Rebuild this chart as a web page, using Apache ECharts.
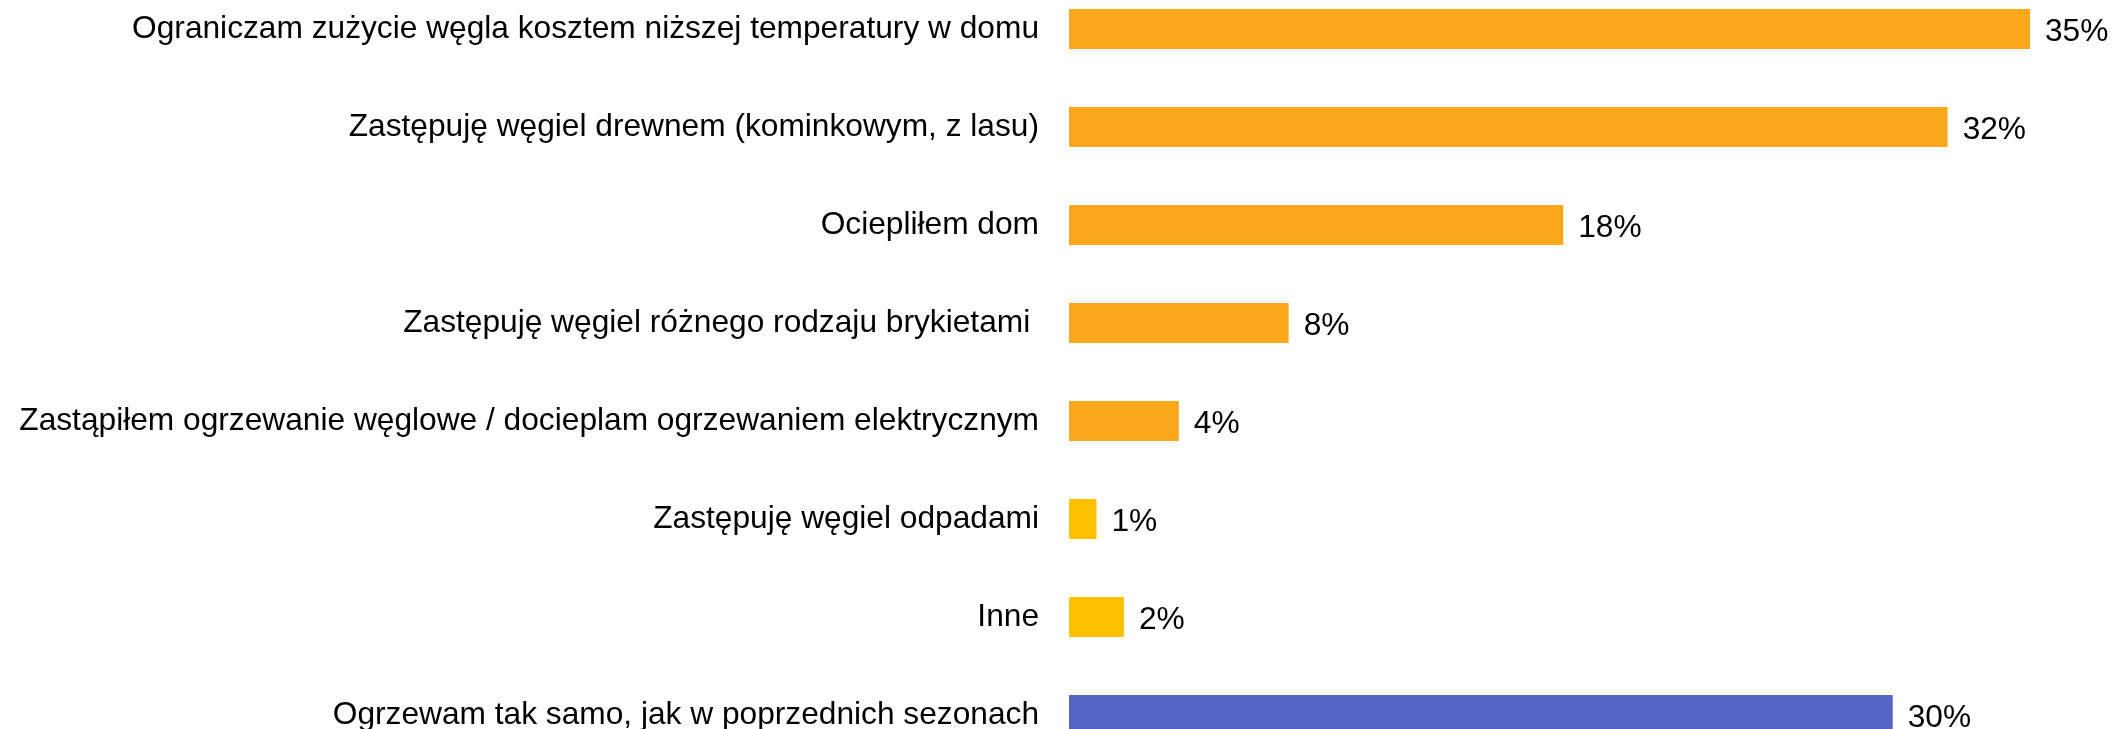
<!DOCTYPE html>
<html>
<head>
<meta charset="utf-8">
<script src="https://cdn.jsdelivr.net/npm/echarts@6/dist/echarts.min.js"></script>
<style>
html,body{margin:0;padding:0;background:#fff;}
#chart{width:2113px;height:729px;}
</style>
</head>
<body>
<div id="chart"></div>
<script>
const categories = [
  'Ograniczam zużycie węgla kosztem niższej temperatury w domu',
  'Zastępuję węgiel drewnem (kominkowym, z lasu)',
  'Ociepliłem dom',
  'Zastępuję węgiel różnego rodzaju brykietami ',
  'Zastąpiłem ogrzewanie węglowe / docieplam ogrzewaniem elektrycznym',
  'Zastępuję węgiel odpadami',
  'Inne',
  'Ogrzewam tak samo, jak w poprzednich sezonach'
];
const values = [35, 32, 18, 8, 4, 1, 2, 30];
const groups = ['change', 'change', 'change', 'change', 'change', 'other', 'other', 'same'];

const groupColors = { change: '#FBA71B', other: '#FFC000', same: '#5565C5' };

const chart = echarts.init(document.getElementById('chart'), null, { renderer: 'canvas' });
chart.setOption({
  animation: false,
  backgroundColor: '#ffffff',
  grid: { left: 1069, width: 961, top: -20, height: 784, containLabel: false, outerBoundsMode: 'none' },
  xAxis: {
    type: 'value', min: 0, max: 35, show: false
  },
  yAxis: {
    type: 'category',
    inverse: true,
    data: categories,
    axisLine: { show: false },
    axisTick: { show: false },
    splitLine: { show: false },
    axisLabel: {
      margin: 30,
      color: '#000000',
      fontFamily: 'Liberation Sans, Arial, sans-serif',
      fontSize: 31.7,
      padding: [6, 0, 0, 0]
    }
  },
  series: [{
    type: 'bar',
    barWidth: 40,
    data: values.map((v, i) => ({ value: v, itemStyle: { color: groupColors[groups[i]] } })),
    label: {
      show: true,
      position: 'right',
      distance: 15,
      offset: [0, 3],
      formatter: p => p.value + '%',
      color: '#000000',
      fontFamily: 'Liberation Sans, Arial, sans-serif',
      fontSize: 31.7
    }
  }]
});
</script>
</body>
</html>
